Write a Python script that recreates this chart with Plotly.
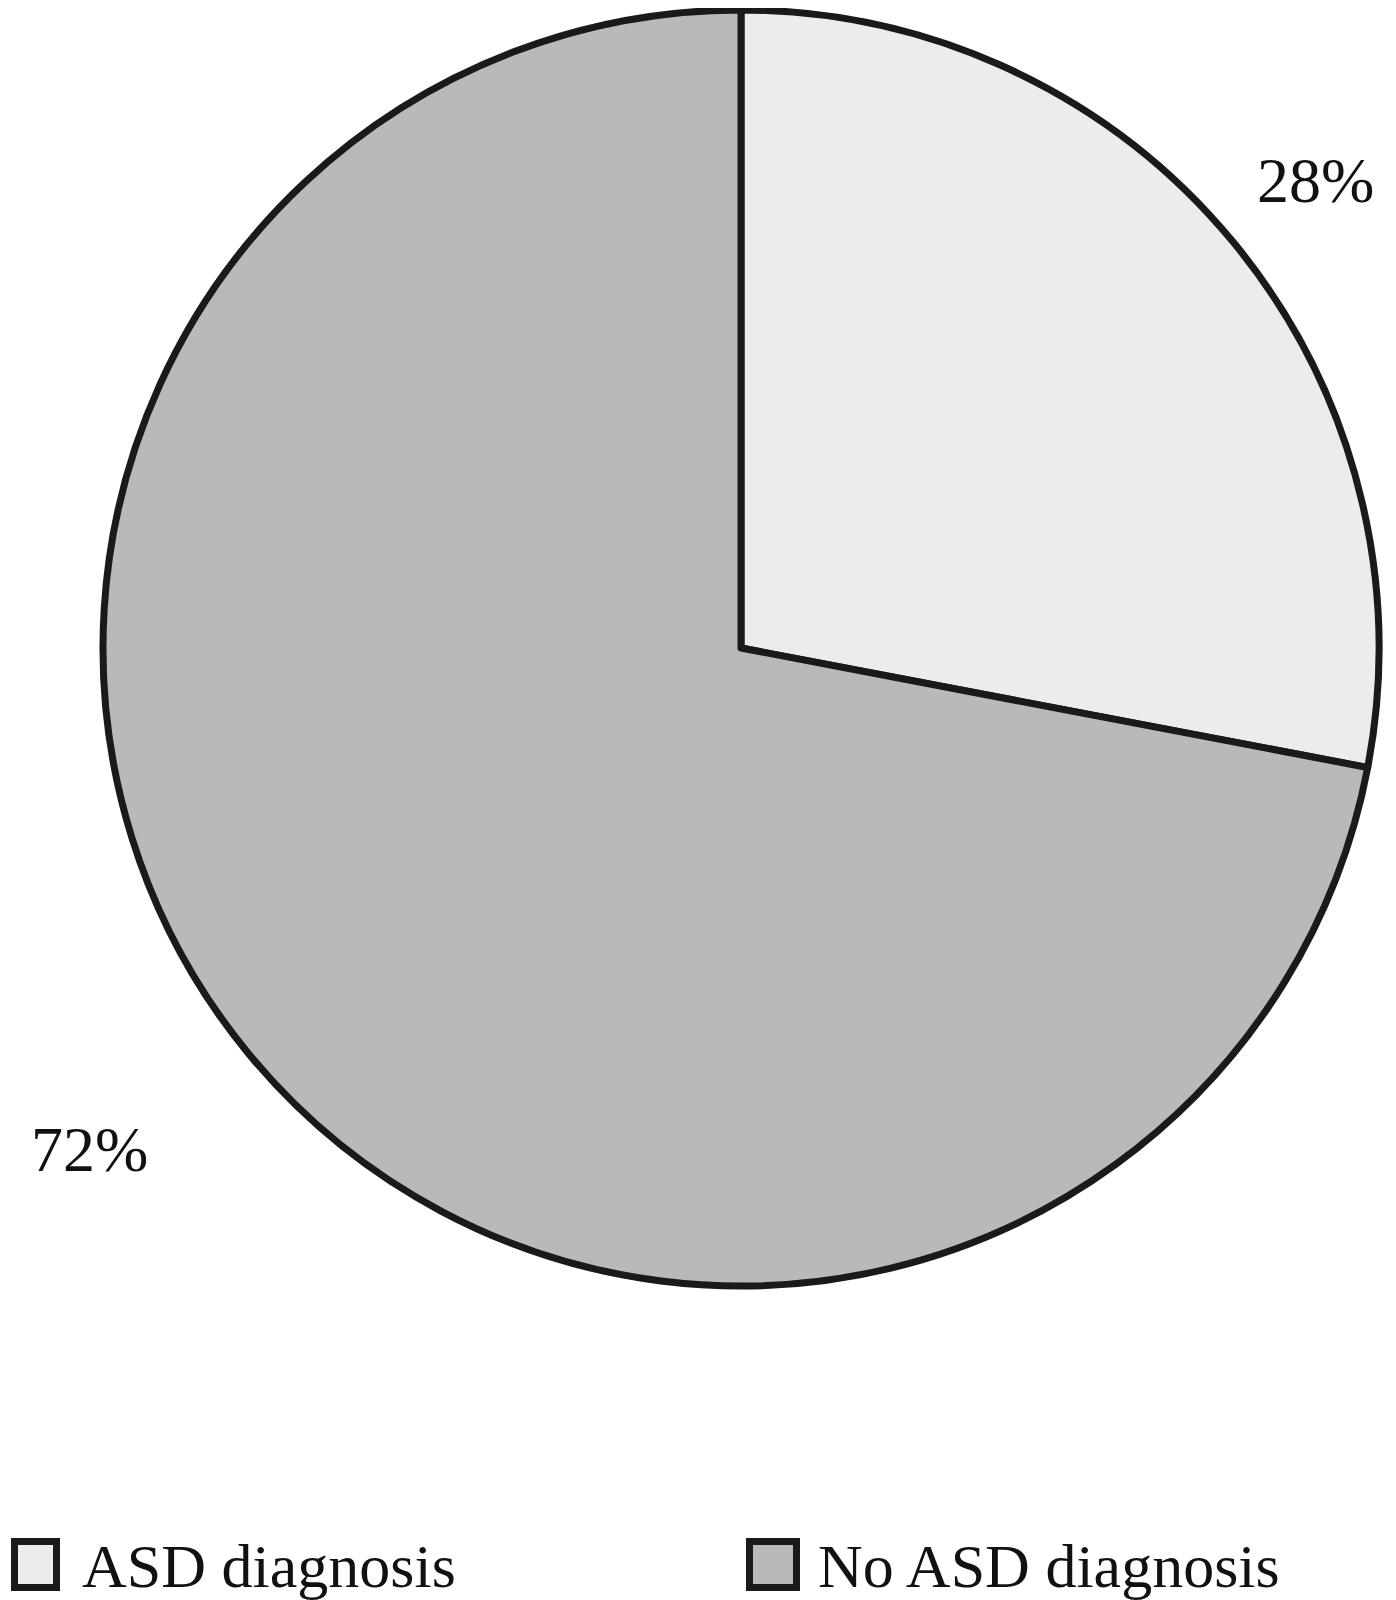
import plotly.graph_objects as go

labels = ["ASD diagnosis", "No ASD diagnosis"]
values = [28, 72]
colors = ["#ececec", "#b9b9b9"]
line_col = "#1a1a1a"

W, H = 1396, 1600
FONT = "Liberation Serif"

# pie placement (pixels)
cx, cy, diam = 733, 640, 1276

fig = go.Figure(go.Pie(
    labels=labels,
    values=values,
    sort=False,
    direction="clockwise",
    rotation=0,
    textinfo="none",
    hoverinfo="label+percent",
    marker=dict(colors=colors, line=dict(color=line_col, width=7)),
    domain=dict(
        x=[(cx - diam / 2) / W, (cx + diam / 2) / W],
        y=[1 - (cy + diam / 2) / H, 1 - (cy - diam / 2) / H],
    ),
))

def px(x, y):
    return x / W, 1 - y / H

# percentage labels outside the slices
label_pos = [(1307, 172), (81, 1141)]
for v, (x, y) in zip(values, label_pos):
    ax, ay = px(x, y)
    fig.add_annotation(x=ax, y=ay, xref="paper", yref="paper",
                       text=f"{v}%", showarrow=False,
                       xanchor="center", yanchor="middle",
                       font=dict(family=FONT, size=64, color="#111111"))

# hand-made legend (big square swatches)
legend_box = [(3, 52), (738, 792)]
legend_text_x = [72, 808]
for lab, col, (x0, x1), tx in zip(labels, colors, legend_box, legend_text_x):
    a0, b0 = px(x0, 1583)
    a1, b1 = px(x1, 1530)
    fig.add_shape(type="rect", xref="paper", yref="paper",
                  x0=a0 + 3.5 / W, x1=a1 - 3.5 / W,
                  y0=b0 + 3.5 / H, y1=b1 - 3.5 / H,
                  fillcolor=col, line=dict(color=line_col, width=7))
    tx_, ty_ = px(tx, 1558)
    fig.add_annotation(x=tx_, y=ty_, xref="paper", yref="paper",
                       text=lab, showarrow=False,
                       xanchor="left", yanchor="middle",
                       font=dict(family=FONT, size=62, color="#111111"))

fig.update_layout(
    width=W, height=H,
    margin=dict(l=0, r=0, t=0, b=0),
    showlegend=False,
    paper_bgcolor="white",
    plot_bgcolor="white",
)

fig.write_html("out.html")
